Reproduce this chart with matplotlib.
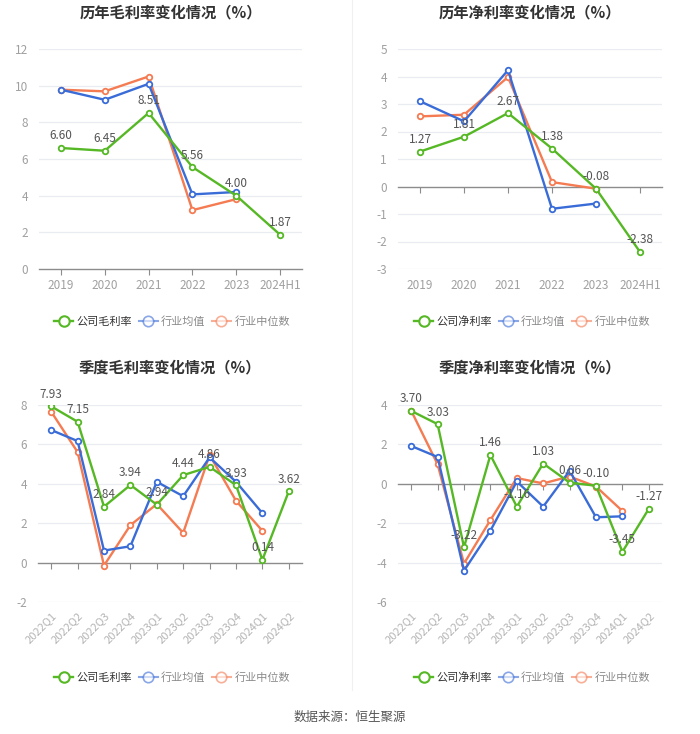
import numpy as np
from matplotlib import pyplot as plt
from matplotlib.lines import Line2D

plt.rcParams['font.family'] = ['Noto Sans CJK SC', 'DejaVu Sans']

# annual data
years = ['2019', '2020', '2021', '2022', '2023', '2024H1']
gross_company = [6.60, 6.45, 8.51, 5.56, 4.00, 1.87]
gross_avg = [9.78, 9.23, 10.10, 4.07, 4.20]
gross_median = [9.78, 9.69, 10.50, 3.21, 3.81]
net_company = [1.27, 1.81, 2.67, 1.38, -0.08, -2.38]
net_avg = [3.10, 2.37, 4.23, -0.81, -0.62]
net_median = [2.55, 2.61, 3.98, 0.16, -0.08]

# quarterly data
quarters = ['2022Q1', '2022Q2', '2022Q3', '2022Q4', '2023Q1', '2023Q2',
            '2023Q3', '2023Q4', '2024Q1', '2024Q2']
q_gross_company = [7.93, 7.15, 2.84, 3.94, 2.94, 4.44, 4.86, 3.93, 0.14, 3.62]
q_gross_avg = [6.73, 6.17, 0.61, 0.83, 4.10, 3.37, 5.34, 4.10, 2.51]
q_gross_median = [7.66, 5.61, -0.15, 1.90, 2.97, 1.51, 5.46, 3.14, 1.61]
q_net_company = [3.70, 3.03, -3.22, 1.46, -1.16, 1.03, 0.06, -0.10, -3.45, -1.27]
q_net_avg = [1.92, 1.36, -4.41, -2.38, 0.12, -1.16, 0.66, -1.70, -1.65]
q_net_median = [3.71, 0.99, -4.05, -1.84, 0.29, 0.02, 0.37, -0.14, -1.38]

GREEN = '#55b824'
BLUE = '#3a6cd8'
ORANGE = '#f47b52'

W, H = 700, 734


def px_axes(fig, x0, x1, ytop, ybot):
    return fig.add_axes([x0 / W, (H - ybot) / H, (x1 - x0) / W, (ybot - ytop) / H])


def draw_panel(fig, box, title, cats, company, avg, median, ylim, yticks,
               rotate=False, title_y=None):
    ax = px_axes(fig, *box)
    n = len(cats)
    xs = np.arange(n)
    ax.set_xlim(-0.5, n - 0.5)
    ax.set_ylim(*ylim)

    for y in yticks:
        if y != 0:
            ax.axhline(y, color='#e9ecf0', lw=0.9, zorder=0)

    ax.plot(xs[:len(median)], median, color=ORANGE, lw=1.7, marker='o', ms=4,
            mfc='white', mec=ORANGE, mew=1.3, zorder=3)
    ax.plot(xs[:len(avg)], avg, color=BLUE, lw=1.7, marker='o', ms=4,
            mfc='white', mec=BLUE, mew=1.3, zorder=4)
    ax.plot(xs, company, color=GREEN, lw=1.7, marker='o', ms=4,
            mfc='white', mec=GREEN, mew=1.3, zorder=5)

    for x, v in zip(xs, company):
        ax.annotate(f'{v:.2f}', (x, v), xytext=(0, 4), textcoords='offset points',
                    ha='center', va='bottom', fontsize=8.5, color='#555555', zorder=6)

    for s in ['top', 'right', 'left']:
        ax.spines[s].set_visible(False)
    ax.spines['bottom'].set_position(('data', 0))
    ax.spines['bottom'].set_color('#8c8c8c')
    ax.spines['bottom'].set_linewidth(1.0)
    ax.set_xticks(xs)
    ax.tick_params(axis='x', length=4, color='#8c8c8c', labelbottom=False)
    ax.set_yticks(yticks)
    ax.set_yticklabels([str(t) for t in yticks])
    ax.tick_params(axis='y', length=0, labelsize=8.5, labelcolor='#a0a0a0', pad=8)

    sec = ax.secondary_xaxis(0.0)
    sec.set_xticks(xs)
    sec.spines['bottom'].set_visible(False)
    if rotate:
        sec.set_xticklabels(cats, rotation=45, ha='right', rotation_mode='anchor')
        sec.tick_params(length=0, labelsize=8, labelcolor='#b4b4b4', pad=6)
    else:
        sec.set_xticklabels(cats)
        sec.tick_params(length=0, labelsize=8.5, labelcolor='#a0a0a0', pad=7)

    cx = (box[0] + box[1]) / 2
    fig.text(cx / W, 1 - title_y / H, title, ha='center', va='center',
             fontsize=11, fontweight='bold', color='#333333')
    return ax


def draw_legend(fig, cx, cy, company_name):
    handles = [
        Line2D([], [], color=GREEN, lw=1.7, marker='o', ms=7.5, mfc='white', mew=1.5),
        Line2D([], [], color=BLUE, lw=1.5, marker='o', ms=7.5, mfc='white', mew=1.2, alpha=0.6),
        Line2D([], [], color=ORANGE, lw=1.5, marker='o', ms=7.5, mfc='white', mew=1.2, alpha=0.6),
    ]
    leg = fig.legend(handles, [company_name, '行业均值', '行业中位数'],
                     loc='center', bbox_to_anchor=(cx / W, 1 - cy / H), ncol=3,
                     frameon=False, fontsize=8, handlelength=1.7,
                     columnspacing=0.6, handletextpad=0.3)
    for t, c in zip(leg.get_texts(), ['#333333', '#8a8a8a', '#8a8a8a']):
        t.set_color(c)


def main():
    fig = plt.figure(figsize=(W / 100, H / 100), dpi=100)
    fig.patch.set_facecolor('white')

    draw_panel(fig, (39, 302, 49, 269), '历年毛利率变化情况（%）', years,
               gross_company, gross_avg, gross_median, (0, 12),
               [0, 2, 4, 6, 8, 10, 12], title_y=12)
    draw_panel(fig, (398, 662, 49, 269), '历年净利率变化情况（%）', years,
               net_company, net_avg, net_median, (-3, 5),
               [-3, -2, -1, 0, 1, 2, 3, 4, 5], title_y=12)
    draw_panel(fig, (38, 302, 405, 602), '季度毛利率变化情况（%）', quarters,
               q_gross_company, q_gross_avg, q_gross_median, (-2, 8),
               [-2, 0, 2, 4, 6, 8], rotate=True, title_y=367)
    draw_panel(fig, (398, 662, 405, 602), '季度净利率变化情况（%）', quarters,
               q_net_company, q_net_avg, q_net_median, (-6, 4),
               [-6, -4, -2, 0, 2, 4], rotate=True, title_y=367)

    draw_legend(fig, 172, 322, '公司毛利率')
    draw_legend(fig, 532, 322, '公司净利率')
    draw_legend(fig, 172, 678, '公司毛利率')
    draw_legend(fig, 532, 678, '公司净利率')

    fig.add_artist(Line2D([352 / W, 352 / W], [1 - 690 / H, 1.0],
                          color='#f0f0f0', lw=0.8))

    fig.text(350 / W, 1 - 717 / H, '数据来源：恒生聚源', ha='center', va='center',
             fontsize=9, color='#555555')

    fig.savefig('out.png', dpi=100)


if __name__ == '__main__':
    main()
